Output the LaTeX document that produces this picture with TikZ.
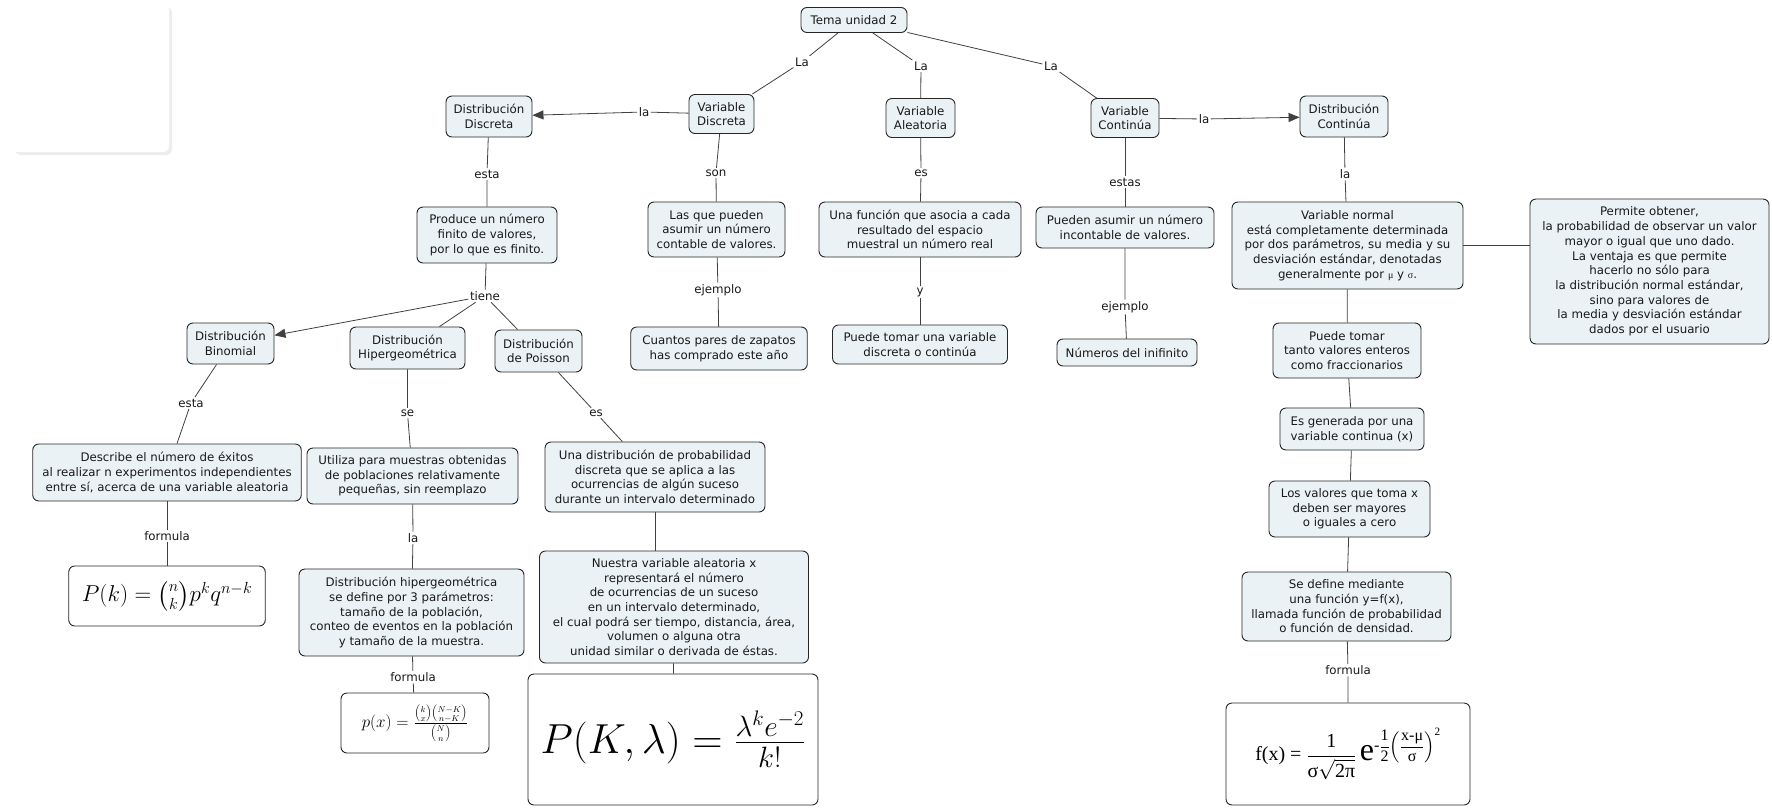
\RequirePackage{fix-cm}
\documentclass[tikz,border=0pt]{standalone}
\usepackage{amsmath}
\usepackage{fontspec}
\setmainfont{DejaVu Sans}
\newfontfamily\timesf{Liberation Serif}
\usetikzlibrary{arrows.meta}
\definecolor{cmapfill}{HTML}{EBF2F5}
\definecolor{cmapline}{HTML}{404040}
\newcommand{\tm}[1]{\text{\timesf #1}}

\begin{document}
\begin{tikzpicture}[x=1pt,y=-1pt,
	concept/.style={draw=black!85, fill=cmapfill, rounded corners=6pt, line width=0.9pt,
		align=center, inner sep=0pt, text=black!90, font=\fontsize{11.8}{14.7}\selectfont},
	formula/.style={draw=black!85, fill=white, rounded corners=6pt, line width=0.9pt, inner sep=0pt},
	linkword/.style={fill=white, inner sep=1.5pt, text=black!90, font=\fontsize{11.8}{14.7}\selectfont},
	conn/.style={draw=cmapline, line width=0.8pt},
	tip/.style={-{Triangle[length=11pt,width=9pt]}}]
		\useasboundingbox (0,0) rectangle (1772,809);
		%% empty box, top left
		\fill[black!7, rounded corners=6pt] (15,7) rectangle (172,155);
		\fill[white, rounded corners=6pt] (12,4) rectangle (169,152);
		\fill[red] (110,570) circle (1pt);

		%% Top of the map
		\node[concept, minimum width=106, minimum height=25] (tema) at (854,20) {Tema unidad 2};
		\node[concept, minimum width=65, minimum height=39] (v_disc) at (721.5,114) {Variable\\Discreta};
		\node[concept, minimum width=69, minimum height=39] (v_alea) at (920.5,118) {Variable\\Aleatoria};
		\node[concept, minimum width=68, minimum height=39] (v_cont) at (1125,118) {Variable\\Continúa};
		\node[concept, minimum width=86, minimum height=41] (d_disc) at (489,116.5) {Distribución\\Discreta};
		\node[concept, minimum width=88, minimum height=41] (d_cont) at (1344,116.5) {Distribución\\Continúa};

		%% Variables
		\node[concept, minimum width=137, minimum height=55] (contable) at (716.5,229.5) {Las que pueden\\asumir un número\\contable de valores.};
		\node[concept, minimum width=202, minimum height=55] (funcion) at (920,229.5) {Una función que asocia a cada\\resultado del espacio\\muestral un número real};
		\node[concept, minimum width=178, minimum height=41] (incontable) at (1125,227.5) {Pueden asumir un número\\incontable de valores.};
		\node[concept, minimum width=176.5, minimum height=43] (zapatos) at (719,348.5) {Cuantos pares de zapatos\\has comprado este año};
		\node[concept, minimum width=175, minimum height=39] (puede_var) at (920,344.5) {Puede tomar una variable\\discreta o continúa};
		\node[concept, minimum width=140, minimum height=27] (infinito) at (1127,352.5) {Números del inifinito};

		%% Distribucion continua
		\node[concept, minimum width=231, minimum height=87] (v_normal) at (1347.5,245.5) {Variable normal\\está completamente determinada\\por dos parámetros, su media y su\\desviación estándar, denotadas\\generalmente por {\timesf\fontsize{10}{14}\selectfont μ} y {\timesf\fontsize{10}{14}\selectfont σ}.};
		\node[concept, minimum width=239, minimum height=145] (permite) at (1649.5,271.5) {Permite obtener,\\la probabilidad de observar un valor\\mayor o igual que uno dado.\\La ventaja es que permite\\hacerlo no sólo para\\la distribución normal estándar,\\sino para valores de\\la media y desviación estándar\\dados por el usuario};
		\node[concept, minimum width=148, minimum height=55] (enteros) at (1347,350.5) {Puede tomar\\tanto valores enteros\\como fraccionarios};
		\node[concept, minimum width=144, minimum height=42] (generada) at (1352,429) {Es generada por una\\variable continua (x)};
		\node[concept, minimum width=161, minimum height=56] (mayores) at (1349.5,509) {Los valores que toma x\\deben ser mayores\\o iguales a cero};
		\node[concept, minimum width=209, minimum height=69] (densidad) at (1346.5,606.5) {Se define mediante\\una función y=f(x),\\llamada función de probabilidad\\o función de densidad.};
		\node[formula, minimum width=244, minimum height=102] (f_normal) at (1348,754)
			{\timesf\fontsize{20}{24}\selectfont f(x) = $\dfrac{\tm{1}}{\tm{σ}\sqrt{\tm{2π}}}$\,{\fontsize{32}{32}\selectfont e}\raisebox{10pt}{\fontsize{16}{16}\selectfont -$\dfrac{\tm{1}}{\tm{2}}\!\left(\dfrac{\tm{x-μ}}{\tm{σ}}\right)^{\tm{2}}$}};

		%% Distribucion discreta
		\node[concept, minimum width=140, minimum height=56] (finito) at (487,235) {Produce un número\\finito de valores,\\por lo que es finito.};
		\node[concept, minimum width=87, minimum height=41] (d_bin) at (230.5,343.5) {Distribución\\Binomial};
		\node[concept, minimum width=115, minimum height=42] (d_hip) at (407.5,348) {Distribución\\Hipergeométrica};
		\node[concept, minimum width=87, minimum height=42] (d_poi) at (538.5,351) {Distribución\\de Poisson};
		\node[concept, minimum width=268.5, minimum height=57] (exitos) at (167,472.5) {Describe el número de éxitos\\al realizar n experimentos independientes\\entre sí, acerca de una variable aleatoria};
		\node[concept, minimum width=211, minimum height=56] (muestras) at (412.5,476) {Utiliza para muestras obtenidas\\de poblaciones relativamente\\pequeñas, sin reemplazo};
		\node[concept, minimum width=220, minimum height=70] (ocurrencias) at (655,477) {Una distribución de probabilidad\\discreta que se aplica a las\\ocurrencias de algún suceso\\durante un intervalo determinado};
		\node[concept, minimum width=225, minimum height=87] (parametros) at (411.5,612.5) {Distribución hipergeométrica\\se define por 3 parámetros:\\tamaño de la población,\\conteo de eventos en la población\\y tamaño de la muestra.};
		\node[concept, minimum width=269, minimum height=112] (nuestra) at (674,607) {Nuestra variable aleatoria x\\representará el número\\de ocurrencias de un suceso\\en un intervalo determinado,\\el cual podrá ser tiempo, distancia, área,\\volumen o alguna otra\\unidad similar o derivada de éstas.};
		\node[formula, minimum width=196.5, minimum height=60] (f_bin) at (167,596)
			{\fontsize{23}{27}\selectfont $P(k)=\binom{n}{k}p^kq^{n-k}$};
		\node[formula, minimum width=148, minimum height=60] (f_hip) at (415,723)
			{\fontsize{17}{20}\selectfont $p(x)=\frac{\binom{k}{x}\binom{N-K}{n-K}}{\binom{N}{n}}$};
		\node[formula, minimum width=290, minimum height=131] (f_poi) at (673,739.5)
			{\fontsize{42}{48}\selectfont $P(K,\lambda)=\frac{\lambda^k e^{-2}}{k!}$};

		%% Linking words
		\node[linkword] (la_a) at (802,62) {La};
		\node[linkword] (la_b) at (921,66) {La};
		\node[linkword] (la_c) at (1051,66) {La};
		\node[linkword] (la_disc) at (644,112) {la};
		\node[linkword] (la_cont) at (1204,119) {la};
		\node[linkword] (son) at (716,173) {son};
		\node[linkword] (es_a) at (921,173) {es};
		\node[linkword] (estas) at (1125,182) {estas};
		\node[linkword] (ejemplo_a) at (718,290) {ejemplo};
		\node[linkword] (y) at (920,292) {y};
		\node[linkword] (ejemplo_b) at (1125,307) {ejemplo};
		\node[linkword] (la_normal) at (1345,174) {la};
		\node[linkword] (esta_a) at (487,174) {esta};
		\node[linkword] (tiene) at (485,296) {tiene};
		\node[linkword] (esta_b) at (191,403) {esta};
		\node[linkword] (se) at (407.5,413) {se};
		\node[linkword] (es_b) at (596,413) {es};
		\node[linkword] (formula_a) at (167,536) {formula};
		\node[linkword] (la_hip) at (413,538) {la};
		\node[linkword] (formula_b) at (413,677) {formula};
		\node[linkword] (formula_c) at (1348,670) {formula};

		%% Connectors
		\draw[conn] (tema) -- (la_a) -- (v_disc);
		\draw[conn] (tema) -- (la_b) -- (v_alea);
		\draw[conn] (tema) -- (la_c) -- (v_cont);
		\draw[conn,tip] (v_disc) -- (la_disc) -- (d_disc);
		\draw[conn,tip] (v_cont) -- (la_cont) -- (d_cont);
		\draw[conn] (v_disc) -- (son) -- (contable);
		\draw[conn] (v_alea) -- (es_a) -- (funcion);
		\draw[conn] (v_cont) -- (estas) -- (incontable);
		\draw[conn] (contable) -- (ejemplo_a) -- (zapatos);
		\draw[conn] (funcion) -- (y) -- (puede_var);
		\draw[conn] (incontable) -- (ejemplo_b) -- (infinito);
		\draw[conn] (d_cont) -- (la_normal) -- (v_normal);
		\draw[conn] (v_normal.east) -- (permite.west |- v_normal.east);
		\draw[conn] (v_normal) -- (enteros);
		\draw[conn] (enteros) -- (generada);
		\draw[conn] (generada) -- (mayores);
		\draw[conn] (mayores) -- (densidad);
		\draw[conn] (densidad) -- (formula_c) -- (f_normal);
		\draw[conn] (d_disc) -- (esta_a) -- (finito);
		\draw[conn] (finito) -- (tiene);
		\draw[conn,tip] (tiene) -- (d_bin);
		\draw[conn] (tiene) -- (d_hip);
		\draw[conn] (tiene) -- (d_poi);
		\draw[conn] (d_bin) -- (esta_b) -- (exitos);
		\draw[conn] (d_hip) -- (se) -- (muestras);
		\draw[conn] (d_poi) -- (es_b) -- (ocurrencias);
		\draw[conn] (exitos) -- (formula_a) -- (f_bin);
		\draw[conn] (muestras) -- (la_hip) -- (parametros);
		\draw[conn] (parametros) -- (formula_b) -- (f_hip);
		\draw[conn] (ocurrencias.south) -- (ocurrencias.south |- nuestra.north);
		\draw[conn] (nuestra) -- (f_poi);
\end{tikzpicture}
\end{document}
